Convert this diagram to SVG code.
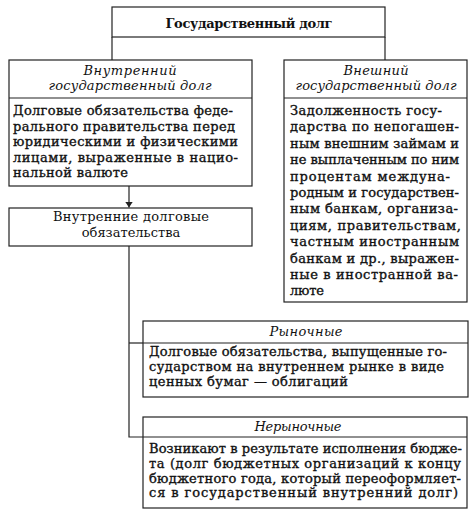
<svg xmlns="http://www.w3.org/2000/svg" width="474" height="520" viewBox="0 0 474 520">
<defs>
<marker id="arr" viewBox="0 0 6 8" refX="6" refY="4" markerWidth="6" markerHeight="8" orient="auto" markerUnits="userSpaceOnUse"><path d="M0,0 L6,4 L0,8 z" fill="#222"/></marker>
<style>
.box{fill:#fff;stroke:#222;stroke-width:1.2}
.ln{fill:none;stroke:#222;stroke-width:1.2}
.t{font-family:"DejaVu Serif",serif;font-size:13px;fill:#111}
.w{stroke:#111;stroke-width:0.35}
.b{font-weight:bold}
.i{font-style:italic}
.c{text-anchor:middle}
</style>
</defs>
<rect width="474" height="520" fill="#fff"/>
<g id="connectors">
<line class="ln" x1="112" y1="37" x2="112" y2="60"/>
<line class="ln" x1="385" y1="37" x2="385" y2="60"/>
<line class="ln" x1="129" y1="186" x2="129" y2="207.5" marker-end="url(#arr)"/>
<polyline class="ln" points="129,246 129,437 143,437"/>
<line class="ln" x1="129" y1="343" x2="143" y2="343"/>
</g>
<g id="gosdolg">
<rect class="box" x="112" y="7" width="273" height="30"/>
<text class="t b c" x="249" y="28" textLength="167">Государственный долг</text>
</g>
<g id="vnutr">
<rect class="box" x="9" y="60" width="243" height="126"/>
<line class="ln" x1="9" y1="98" x2="252" y2="98"/>
<text class="t i c" x="130" y="75" textLength="93">Внутренний</text>
<text class="t i c" x="130" y="90" textLength="163">государственный долг</text>
<text class="t w" x="13" y="115" textLength="220">Долговые обязательства феде-</text>
<text class="t w" x="13" y="130.5" textLength="222">рального правительства перед</text>
<text class="t w" x="13" y="146" textLength="225">юридическими и физическими</text>
<text class="t w" x="13" y="161.5" textLength="225">лицами, выраженные в нацио-</text>
<text class="t w" x="13" y="177" textLength="115">нальной валюте</text>
</g>
<g id="vnesh">
<rect class="box" x="284" y="60" width="183" height="242"/>
<line class="ln" x1="284" y1="98" x2="467" y2="98"/>
<text class="t i c" x="376" y="75" textLength="65">Внешний</text>
<text class="t i c" x="376" y="90" textLength="161">государственный долг</text>
<text class="t w" x="290" y="115" textLength="152">Задолженность госу-</text>
<text class="t w" x="290" y="131.4" textLength="169">дарства по непогашен-</text>
<text class="t w" x="290" y="147.8" textLength="169">ным внешним займам и</text>
<text class="t w" x="290" y="164.2" textLength="169">не выплаченным по ним</text>
<text class="t w" x="290" y="180.6" textLength="160">процентам междуна-</text>
<text class="t w" x="290" y="197" textLength="169">родным и государствен-</text>
<text class="t w" x="290" y="213.4" textLength="168">ным банкам, организа-</text>
<text class="t w" x="290" y="229.8" textLength="171">циям, правительствам,</text>
<text class="t w" x="290" y="246.2" textLength="169">частным иностранным</text>
<text class="t w" x="290" y="262.6" textLength="169">банкам и др., выражен-</text>
<text class="t w" x="290" y="279" textLength="168">ные в иностранной ва-</text>
<text class="t w" x="290" y="295.4" textLength="34">люте</text>
</g>
<g id="vnutr-obyaz">
<rect class="box" x="9" y="208" width="243" height="38"/>
<text class="t c" x="131" y="221" textLength="156">Внутренние долговые</text>
<text class="t c" x="131" y="237">обязательства</text>
</g>
<g id="rynochnye">
<rect class="box" x="143" y="321" width="325" height="76"/>
<line class="ln" x1="143" y1="343" x2="468" y2="343"/>
<text class="t i c" x="306" y="336" textLength="73">Рыночные</text>
<text class="t w" x="149" y="356" textLength="298">Долговые обязательства, выпущенные го-</text>
<text class="t w" x="149" y="371" textLength="295">сударством на внутреннем рынке в виде</text>
<text class="t w" x="149" y="386" textLength="199">ценных бумаг — облигаций</text>
</g>
<g id="nerynochnye">
<rect class="box" x="143" y="417" width="324" height="91"/>
<line class="ln" x1="143" y1="437" x2="467" y2="437"/>
<text class="t i c" x="298" y="431" textLength="87">Нерыночные</text>
<text class="t w" x="149" y="453" textLength="313">Возникают в результате исполнения бюдже-</text>
<text class="t w" x="149" y="468" textLength="312">та (долг бюджетных организаций к концу</text>
<text class="t w" x="149" y="483" textLength="312">бюджетного года, который переоформляет-</text>
<text class="t w" x="149" y="497" textLength="309">ся в государственный внутренний долг)</text>
</g>
</svg>
